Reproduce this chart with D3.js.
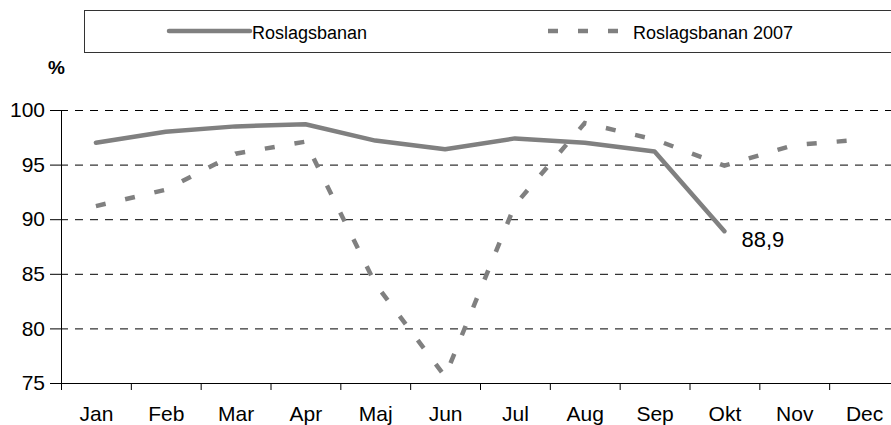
<!DOCTYPE html>
<html><head><meta charset="utf-8">
<script src="https://cdn.jsdelivr.net/npm/d3@7"></script>
<style>
html,body{margin:0;padding:0;background:#fff;}
svg{display:block;font-family:"Liberation Sans",Arial,sans-serif;}
</style></head>
<body><svg id="c" width="891" height="425"></svg>
<script>
const months = ["Jan","Feb","Mar","Apr","Maj","Jun","Jul","Aug","Sep","Okt","Nov","Dec"];
const series2008 = [97.0, 98.0, 98.5, 98.7, 97.2, 96.4, 97.4, 97.0, 96.2, 88.9];
const series2007 = [91.2, 92.7, 96.0, 97.1, 84.1, 75.6, 91.3, 98.8, 97.3, 94.9, 96.8, 97.3];
const yTicks = [75, 80, 85, 90, 95, 100];
const seriesNames = ["Roslagsbanan", "Roslagsbanan 2007"];
const lastLabel = "88,9";

const svg = d3.select("#c");
const grey = "#808080";
const x = d3.scaleLinear().domain([0, 12]).range([61, 899]);
const y = d3.scaleLinear().domain([75, 100]).range([383, 110]);

// gridlines
svg.append("g").selectAll("line").data(yTicks.filter(v => v > 75)).join("line")
  .attr("x1", 61).attr("x2", 899)
  .attr("y1", d => y(d) + 0.5).attr("y2", d => y(d) + 0.5)
  .attr("stroke", "#000").attr("stroke-width", 1)
  .attr("stroke-dasharray", "8,7").attr("stroke-dashoffset", 1);

// y axis
const ya = svg.append("g").attr("transform", "translate(61,0)")
  .call(d3.axisLeft(y).tickValues(yTicks).tickSize(11).tickSizeOuter(0).tickPadding(5));
ya.selectAll("text").attr("font-size", 21).attr("font-family", "Liberation Sans, Arial").attr("fill", "#000");
ya.selectAll("line,path").attr("stroke", "#000");

// x axis ticks
const xa = svg.append("g").attr("transform", `translate(0,${y(75)})`)
  .call(d3.axisBottom(x).tickValues(d3.range(13)).tickSize(7).tickSizeOuter(0).tickFormat(""));
xa.selectAll("line,path").attr("stroke", "#000");
// x labels
const xl = svg.append("g").attr("transform", `translate(0,${y(75)})`)
  .call(d3.axisBottom(x).tickValues(d3.range(12).map(i => i + 0.5)).tickSize(0).tickPadding(23)
    .tickFormat((d, i) => months[i]));
xl.select(".domain").remove();
xl.selectAll("text").attr("font-size", 21).attr("font-family", "Liberation Sans, Arial").attr("fill", "#000");

// lines
const line = d3.line().x((d, i) => x(i + 0.5)).y(d => y(d));
svg.append("path").datum(series2007).attr("d", line)
  .attr("fill", "none").attr("stroke", grey).attr("stroke-width", 4.5)
  .attr("stroke-dasharray", "10,20").attr("stroke-linejoin", "miter");
svg.append("path").datum(series2008).attr("d", line)
  .attr("fill", "none").attr("stroke", grey).attr("stroke-width", 4.5)
  .attr("stroke-linejoin", "round").attr("stroke-linecap", "round");

// data label
const li = series2008.length - 1;
svg.append("text").attr("x", x(li + 0.5) + 17).attr("y", y(series2008[li]) + 16)
  .attr("font-size", 22).attr("fill", "#000").text(lastLabel);

// % label
svg.append("text").attr("x", 48).attr("y", 74).attr("font-size", 19).attr("font-weight", "bold").text("%");

// legend
svg.append("rect").attr("x", 84.5).attr("y", 10.5).attr("width", 830).attr("height", 42)
  .attr("fill", "#fff").attr("stroke", "#333").attr("stroke-width", 1);
svg.append("line").attr("x1", 169).attr("x2", 250).attr("y1", 31).attr("y2", 31)
  .attr("stroke", grey).attr("stroke-width", 4.5).attr("stroke-linecap", "round");
svg.append("text").attr("x", 252).attr("y", 39).attr("font-size", 18).text(seriesNames[0]);
svg.append("line").attr("x1", 548).attr("x2", 620).attr("y1", 31).attr("y2", 31)
  .attr("stroke", grey).attr("stroke-width", 4.5).attr("stroke-dasharray", "10,20");
svg.append("text").attr("x", 633).attr("y", 39).attr("font-size", 18).text(seriesNames[1]);
</script></body></html>
